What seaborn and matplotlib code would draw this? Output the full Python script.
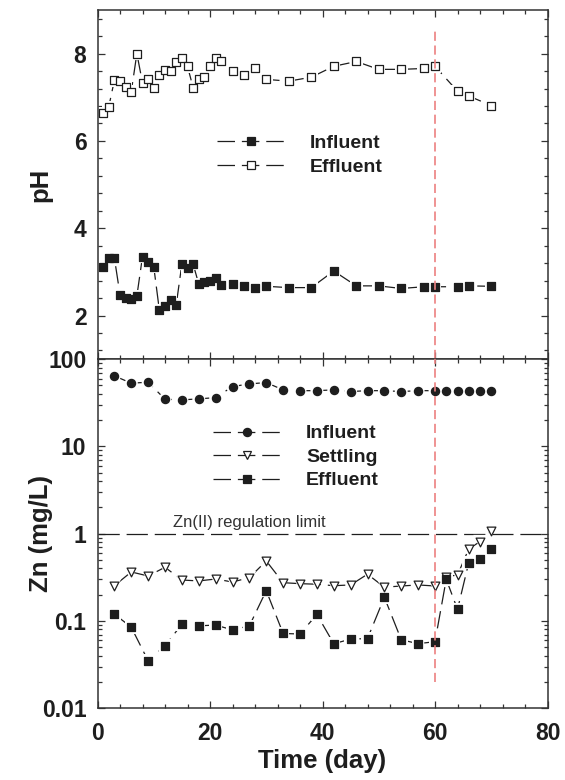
import numpy as np
import pandas as pd
import matplotlib
matplotlib.use("Agg")
import matplotlib.pyplot as plt
from matplotlib.lines import Line2D
from matplotlib.ticker import MultipleLocator, FixedLocator, LogLocator, NullFormatter, FixedFormatter
import seaborn as sns

# ---------------- data ----------------
days_ph = [1, 2, 3, 4, 5, 6, 7, 8, 9, 10, 11, 12, 13, 14, 15, 16, 17, 18, 19, 20, 21, 22,
           24, 26, 28, 30, 34, 38, 42, 46, 50, 54, 58, 60, 64, 66, 70]
ph_influent = [3.12, 3.32, 3.32, 2.48, 2.41, 2.39, 2.45, 3.35, 3.22, 3.12,
               2.12, 2.22, 2.35, 2.25, 3.18, 3.10, 3.18, 2.72, 2.77, 2.80,
               2.85, 2.70, 2.72, 2.67, 2.64, 2.67, 2.64, 2.64, 3.02, 2.68,
               2.68, 2.62, 2.66, 2.66, 2.66, 2.68, 2.67]
ph_effluent = [6.64, 6.78, 7.39, 7.37, 7.23, 7.13, 8.00, 7.33, 7.43, 7.22,
               7.52, 7.62, 7.60, 7.81, 7.91, 7.71, 7.22, 7.43, 7.46, 7.71,
               7.91, 7.82, 7.61, 7.52, 7.66, 7.41, 7.37, 7.46, 7.71, 7.82,
               7.64, 7.64, 7.66, 7.71, 7.14, 7.03, 6.81]

days_zn = [3, 6, 9, 12, 15, 18, 21, 24, 27, 30, 33, 36, 39, 42, 45, 48, 51, 54, 57, 60,
           62, 64, 66, 68, 70]
zn_influent = [64.4, 53.1, 54.5, 34.8, 34.2, 35.1, 36.3, 48.6, 52.1, 54.0,
               44.5, 43.6, 43.6, 44.5, 42.6, 43.6, 43.6, 42.6, 43.6, 43.6,
               43.6, 43.6, 43.6, 43.6, 43.6]
zn_settling = [0.254, 0.365, 0.328, 0.413, 0.295, 0.288, 0.303, 0.280, 0.314, 0.488,
               0.275, 0.268, 0.264, 0.254, 0.259, 0.344, 0.244, 0.252, 0.259, 0.252,
               0.322, 0.337, 0.670, 0.813, 1.076]
zn_effluent = [0.120, 0.085, 0.035, 0.052, 0.092, 0.088, 0.090, 0.079, 0.088, 0.223,
               0.072, 0.071, 0.119, 0.055, 0.062, 0.063, 0.187, 0.061, 0.055, 0.058,
               0.301, 0.136, 0.467, 0.519, 0.675]

regulation_limit = 1.0
regulation_text = "Zn(II) regulation limit"
switch_day = 60
time_ticks = [0, 20, 40, 60, 80]
ph_ticks = [2, 4, 6, 8]
zn_ticks = [0.01, 0.1, 1, 10, 100]
zn_tick_labels = ["0.01", "0.1", "1", "10", "100"]

# ---------------- style ----------------
sns.set_style("ticks")
plt.rcParams["font.family"] = ["Liberation Sans", "DejaVu Sans"]
plt.rcParams["font.weight"] = "bold"
INK = "#1e1e1e"
RED = "#ec8080"
DASH = (0, (14, 5.5))

fig = plt.figure(figsize=(5.65, 7.8), dpi=100)
ax1 = fig.add_axes([0.17257, 0.53949, 0.79646, 0.44770])
ax2 = fig.add_axes([0.17257, 0.09192, 0.79646, 0.44757])


def series(ax, x, y, marker, face, ms, z):
    df = pd.DataFrame({"x": x, "y": y})
    sns.lineplot(data=df, x="x", y="y", ax=ax, color=INK, linewidth=0.9,
                 linestyle=DASH, estimator=None, zorder=2)
    # white halo that opens a gap in the line around each marker
    sns.scatterplot(data=df, x="x", y="y", ax=ax, marker=marker, s=(ms + 3.4) ** 2,
                    color="white", edgecolor="none", linewidth=0, zorder=2.5)
    sns.scatterplot(data=df, x="x", y="y", ax=ax, marker=marker, s=ms ** 2,
                    color=face, edgecolor=INK, linewidth=0.9, zorder=z)


# ---------------- top panel: pH ----------------
series(ax1, days_ph, ph_influent, "s", INK, 5.7, 3)
series(ax1, days_ph, ph_effluent, "s", "white", 5.7, 3)
ax1.axvline(switch_day, ymin=0, ymax=0.945, color=RED, lw=1.2, linestyle=(0, (5.5, 2.8)), zorder=4)

ax1.set_xlim(0, 80)
ax1.set_ylim(1, 9)
ax1.xaxis.set_major_locator(FixedLocator(time_ticks))
ax1.xaxis.set_minor_locator(MultipleLocator(4))
ax1.yaxis.set_major_locator(FixedLocator(ph_ticks))
ax1.yaxis.set_minor_locator(MultipleLocator(0.4))
ax1.set_xticklabels([])
ax1.set_xlabel("")
ax1.set_ylabel("pH", fontsize=18.5, fontweight="bold", color=INK)
ax1.yaxis.set_label_coords(-0.10, 0.5)

h1 = [Line2D([], [], color=INK, lw=0.9, linestyle=DASH, marker="s", ms=5.7,
             mfc=INK, mec=INK, mew=0.9),
      Line2D([], [], color=INK, lw=0.9, linestyle=DASH, marker="s", ms=5.7,
             mfc="white", mec=INK, mew=0.9)]
leg1 = ax1.legend(h1, ["Influent", "Effluent"], loc="upper left",
                  bbox_to_anchor=(0.265, 0.643), frameon=False, borderpad=0,
                  borderaxespad=0, handlelength=3.5, handletextpad=1.3,
                  labelspacing=0.3, prop={"size": 14, "weight": "bold"})
for t in leg1.get_texts():
    t.set_color(INK)

# ---------------- bottom panel: Zn ----------------
series(ax2, days_zn, zn_influent, "o", INK, 5.9, 3)
series(ax2, days_zn, zn_settling, "v", "white", 6.3, 3)
series(ax2, days_zn, zn_effluent, "s", INK, 5.7, 3.1)
ax2.axhline(regulation_limit, color=INK, lw=0.9, linestyle=(0, (17, 5.5)), zorder=1)
ax2.text(13.4, 1.19, regulation_text, fontsize=12, fontweight="normal", color="#333333",
         va="baseline", ha="left")
ax2.axvline(switch_day, ymin=0.0753, ymax=1, color=RED, lw=1.2, linestyle=(0, (5.5, 2.8)), zorder=4)

ax2.set_xlim(0, 80)
ax2.set_yscale("log")
ax2.set_ylim(0.01, 100)
ax2.xaxis.set_major_locator(FixedLocator(time_ticks))
ax2.xaxis.set_minor_locator(MultipleLocator(4))
ax2.yaxis.set_major_locator(FixedLocator(zn_ticks))
ax2.yaxis.set_major_formatter(FixedFormatter(zn_tick_labels))
ax2.yaxis.set_minor_locator(LogLocator(base=10, subs=np.arange(2, 10)))
ax2.yaxis.set_minor_formatter(NullFormatter())
ax2.set_xlabel("Time (day)", fontsize=18.5, fontweight="bold", color=INK)
ax2.set_ylabel("Zn (mg/L)", fontsize=18.5, fontweight="bold", color=INK)
ax2.yaxis.set_label_coords(-0.098, 0.5)
ax2.xaxis.set_label_coords(0.5, -0.118)

h2 = [Line2D([], [], color=INK, lw=0.9, linestyle=DASH, marker="o", ms=5.9,
             mfc=INK, mec=INK, mew=0.9),
      Line2D([], [], color=INK, lw=0.9, linestyle=DASH, marker="v", ms=6.3,
             mfc="white", mec=INK, mew=0.9),
      Line2D([], [], color=INK, lw=0.9, linestyle=DASH, marker="s", ms=5.7,
             mfc=INK, mec=INK, mew=0.9)]
leg2 = ax2.legend(h2, ["Influent", "Settling", "Effluent"], loc="upper left",
                  bbox_to_anchor=(0.256, 0.812), frameon=False, borderpad=0,
                  borderaxespad=0, handlelength=3.5, handletextpad=1.3,
                  labelspacing=0.3, prop={"size": 14, "weight": "bold"})
for t in leg2.get_texts():
    t.set_color(INK)

for ax in (ax1, ax2):
    for s in ax.spines.values():
        s.set_linewidth(1.1)
        s.set_color("#333333")
    ax.tick_params(which="both", direction="in", top=True, right=True,
                   width=0.9, color="#333333")
    ax.tick_params(which="major", length=5)
    ax.tick_params(which="minor", length=3)
    ax.tick_params(axis="y", labelsize=16.5, pad=8, labelcolor=INK)
    ax.tick_params(axis="x", labelsize=16.5, pad=10, labelcolor=INK)
    for lab in ax.get_xticklabels() + ax.get_yticklabels():
        lab.set_fontweight("bold")

fig.savefig("out.png", dpi=100)
